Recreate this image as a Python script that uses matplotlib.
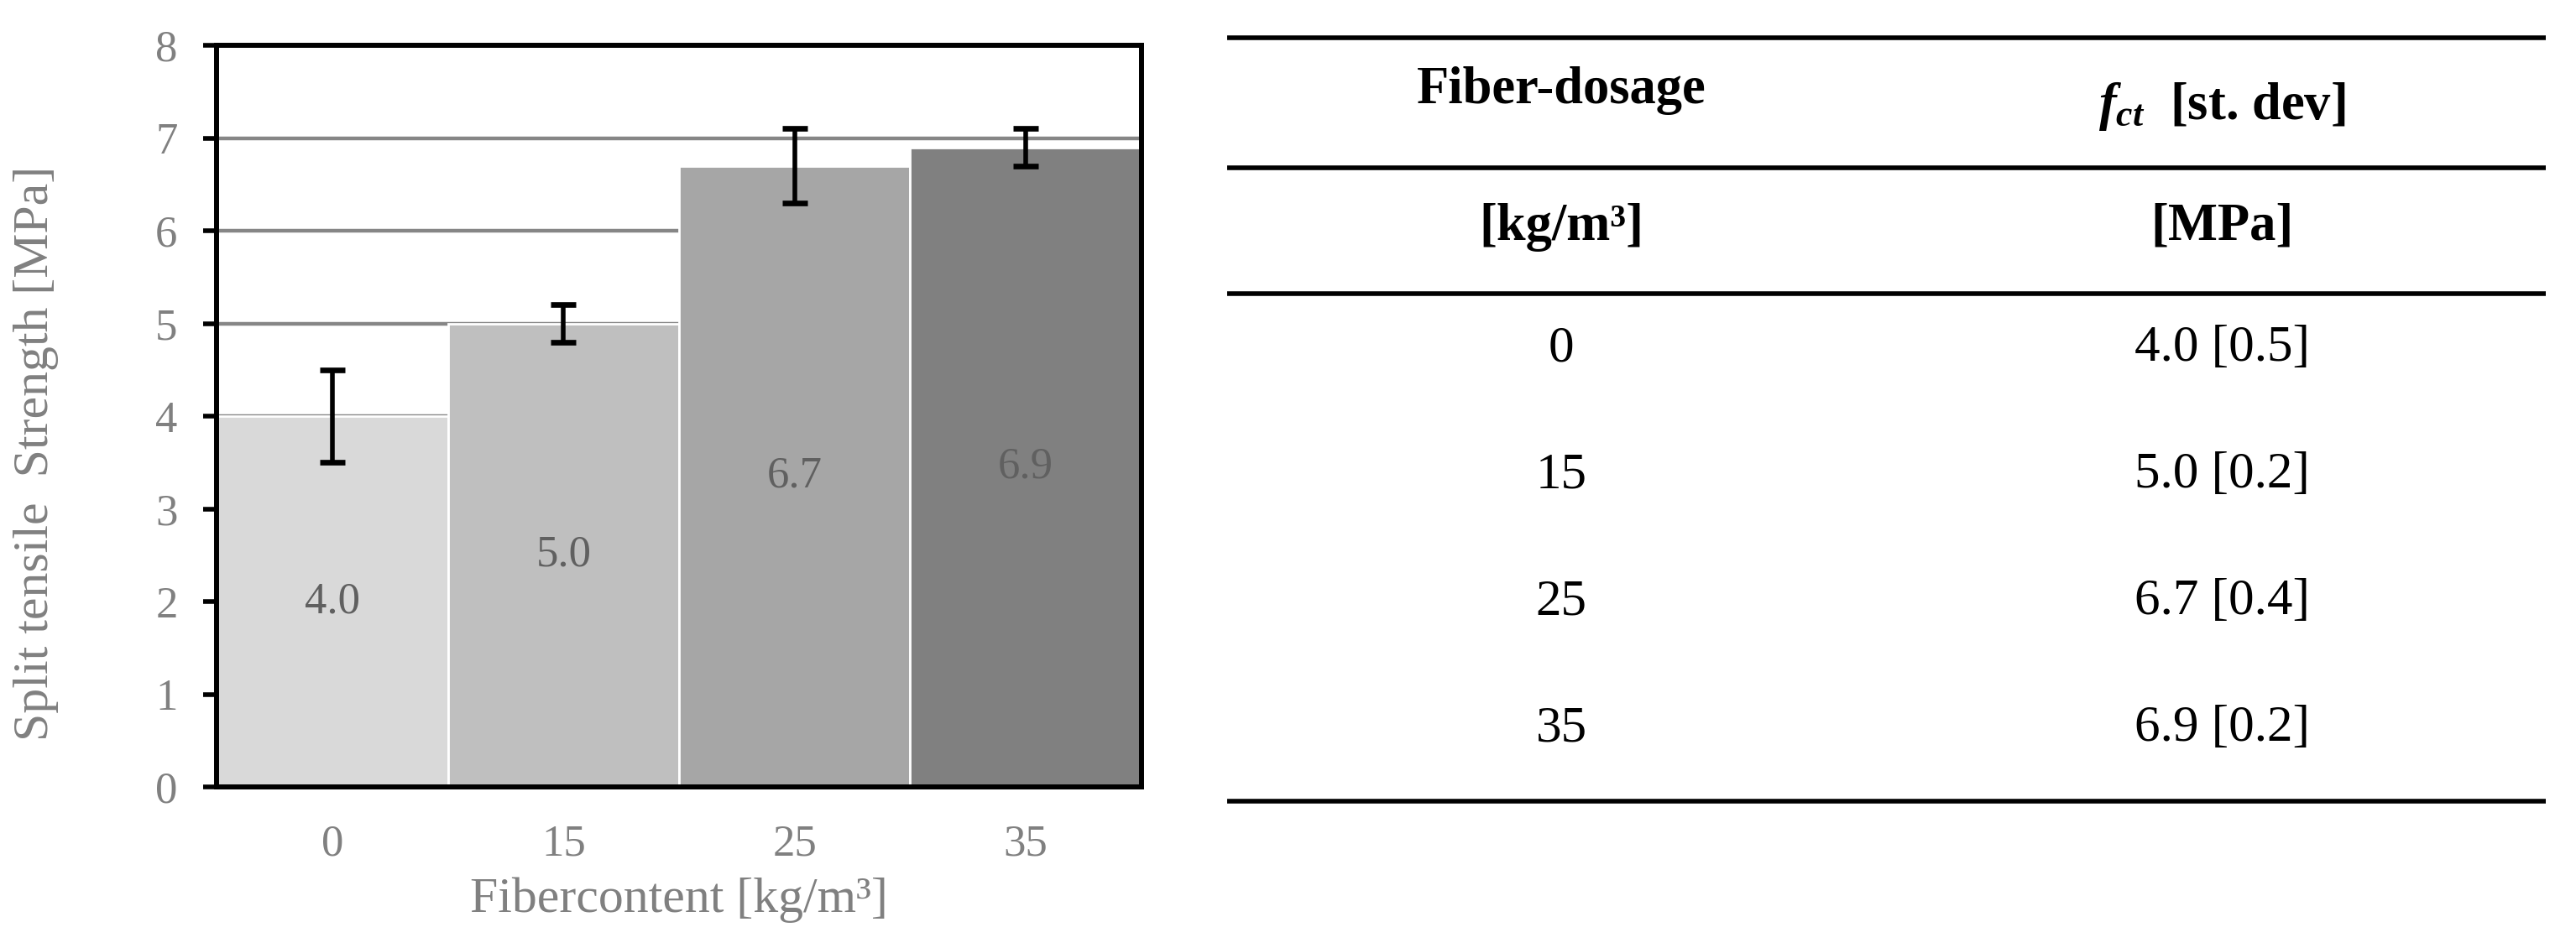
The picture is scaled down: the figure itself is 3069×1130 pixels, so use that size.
import numpy as np
import matplotlib
matplotlib.use('Agg')
import matplotlib.pyplot as plt

plt.rcParams['font.family'] = ['Liberation Serif', 'DejaVu Serif']
plt.rcParams['mathtext.fontset'] = 'custom'
plt.rcParams['mathtext.it'] = 'Liberation Serif:italic:bold'
plt.rcParams['mathtext.rm'] = 'Liberation Serif:bold'

# data
fiber = ['0', '15', '25', '35']
strength = [4.0, 5.0, 6.7, 6.9]
std_dev = [0.5, 0.2, 0.4, 0.2]
bar_colors = ['#d9d9d9', '#bfbfbf', '#a6a6a6', '#808080']

fig = plt.figure(figsize=(30.69, 11.30), dpi=100)

# bar chart
ax = fig.add_axes([0.0841, 0.1699, 0.4431 - 0.0841, 0.9522 - 0.1699])
x = np.arange(len(fiber))
ax.bar(x, strength, width=1.0, color=bar_colors, edgecolor='white', linewidth=2, zorder=2)
ax.errorbar(x, strength, yerr=std_dev, fmt='none', ecolor='black',
            elinewidth=4, capsize=10.5, capthick=4.8, zorder=3)

for xi, v in zip(x, strength):
    ax.text(xi, v / 2, f'{v:.1f}', ha='center', va='center', fontsize=38, color='#606060', zorder=4)

ax.set_xlim(-0.5, 3.5)
ax.set_ylim(0, 8)
ax.set_yticks(range(0, 9))
ax.set_xticks(x)
ax.set_xticklabels(fiber)
ax.yaxis.grid(True, color='#868686', linewidth=3.2, zorder=0)
ax.set_axisbelow(True)

for sp in ax.spines.values():
    sp.set_linewidth(4.3)
    sp.set_color('black')
    sp.set_zorder(5)

ax.tick_params(axis='y', length=11.5, width=4, color='black', pad=22,
               labelsize=38, labelcolor='#808080')
ax.tick_params(axis='x', length=0, pad=32, labelsize=38, labelcolor='#808080')

ax.set_xlabel('Fibercontent [kg/m³]', fontsize=43, color='#808080', va='center')
ax.xaxis.set_label_coords(0.5, -0.152)
ax.set_ylabel('Split tensile  Strength [MPa]', fontsize=43, color='#808080', va='center')
ax.yaxis.set_label_coords(-0.195, 0.45)

# table
tab = fig.add_axes([0.4764, 0.1549, 0.5119, 0.8053])
tab.set_xlim(0, 1)
tab.set_ylim(0, 1)
tab.axis('off')

for yl in [1.0, 0.8297, 0.6648, 0.0]:
    tab.axhline(yl, color='black', linewidth=4.0, solid_capstyle='butt', clip_on=False)

col1, col2 = 0.2533, 0.7543
tab.text(col1, 0.9308, 'Fiber-dosage', ha='center', va='center', fontsize=45, fontweight='bold')
tab.text(col2, 0.9099, r'$f_{ct}$  [st. dev]', ha='center', va='center', fontsize=45, fontweight='bold')
tab.text(col1, 0.752, '[kg/m³]', ha='center', va='center', fontsize=45, fontweight='bold')
tab.text(col2, 0.752, '[MPa]', ha='center', va='center', fontsize=45, fontweight='bold')

for i, (f, v, s) in enumerate(zip(fiber, strength, std_dev)):
    yrow = 0.593 - i * 0.166
    tab.text(col1, yrow, f, ha='center', va='center', fontsize=44)
    tab.text(col2, yrow, f'{v:.1f} [{s:.1f}]', ha='center', va='center', fontsize=44)

fig.savefig('out.png', dpi=100)
